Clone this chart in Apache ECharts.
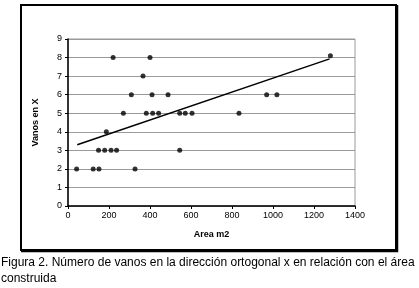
<!DOCTYPE html>
<html>
<head>
<meta charset="utf-8">
<script src="https://cdn.jsdelivr.net/npm/echarts@6/dist/echarts.min.js"></script>
<style>
  html, body { margin: 0; padding: 0; background: #fff; }
  #chart { width: 419px; height: 288px; }
</style>
</head>
<body>
<div id="chart"></div>
<script>
// area (m2) and number of spans in X
const areas = [220, 400, 366, 309, 410, 488, 270, 382, 413, 442, 545, 572, 605, 834,
               187, 149, 179, 210, 237, 545, 42, 123, 151, 327, 1280, 969, 1019];
const vanos = [8, 8, 7, 6, 6, 6, 5, 5, 5, 5, 5, 5, 5, 5,
               4, 3, 3, 3, 3, 3, 2, 2, 2, 2, 8.1, 6, 6];
// trend line end points
const trendX = [45, 1276];
const trendY = [3.3, 7.93];

const caption = "Figura 2. Número de vanos en la dirección ortogonal x en relación con el área\nconstruida";

let myChart = echarts.init(document.getElementById("chart"));

let option = {
  animation: false,
  grid: {
    left: 68, right: 64, top: 39, bottom: 82,
    show: true,
    borderColor: "#9a9a9a",
    borderWidth: 1
  },
  xAxis: {
    type: "value",
    min: 0, max: 1400, interval: 200,
    name: "Area m2",
    nameLocation: "middle",
    nameGap: 24,
    nameTextStyle: { fontFamily: "Liberation Sans", fontSize: 9, fontWeight: "bold", color: "#000" },
    axisLine: { lineStyle: { color: "#000", width: 1.5 } },
    axisTick: { length: 3, lineStyle: { color: "#000" } },
    axisLabel: { fontFamily: "Liberation Sans", fontSize: 9, color: "#000", margin: 5,
                 formatter: v => String(v) },
    splitLine: { show: false }
  },
  yAxis: {
    type: "value",
    min: 0, max: 9, interval: 1,
    name: "Vanos en X",
    nameLocation: "middle",
    nameGap: 28,
    nameTextStyle: { fontFamily: "Liberation Sans", fontSize: 9, fontWeight: "bold", color: "#000" },
    axisLine: { show: true, lineStyle: { color: "#000", width: 1.5 } },
    axisTick: { show: true, length: 3, lineStyle: { color: "#000" } },
    axisLabel: { fontFamily: "Liberation Sans", fontSize: 9, color: "#000", margin: 6 },
    splitLine: { lineStyle: { color: "#9a9a9a", width: 1 } }
  },
  graphic: [
    {
      type: "rect",
      shape: { x: 21, y: 5, width: 375, height: 245 },
      style: { fill: "none", stroke: "#000", lineWidth: 2 },
      silent: true
    },
    {
      // heavier right and bottom edge of the frame
      type: "polyline",
      shape: { points: [[397, 5], [397, 251], [21, 251]] },
      style: { fill: "none", stroke: "#000", lineWidth: 2.5 },
      silent: true
    },
    {
      type: "text",
      left: 1, top: 255,
      style: {
        text: caption,
        fontFamily: "Liberation Sans",
        fontSize: 12,
        lineHeight: 16,
        fill: "#000"
      }
    }
  ],
  series: [
    {
      type: "scatter",
      data: areas.map((a, i) => [a, vanos[i]]),
      symbolSize: 5,
      itemStyle: { color: "#000" }
    },
    {
      type: "line",
      data: trendX.map((x, i) => [x, trendY[i]]),
      showSymbol: false,
      lineStyle: { color: "#000", width: 1.5 }
    }
  ]
};

myChart.setOption(option);
</script>
</body>
</html>
